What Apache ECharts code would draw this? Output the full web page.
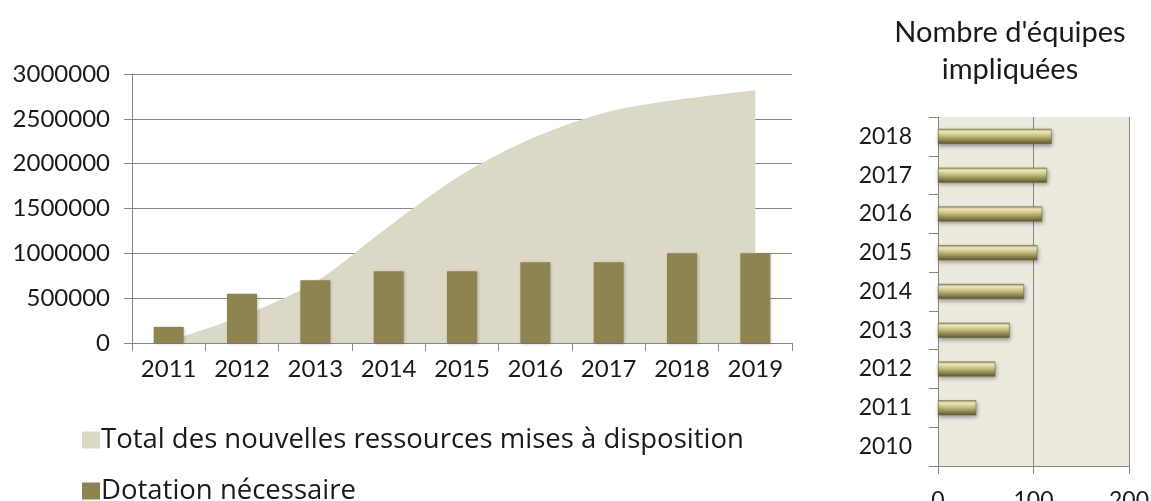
<!DOCTYPE html>
<html>
<head>
<meta charset="utf-8">
<script src="https://cdn.jsdelivr.net/npm/echarts@6/dist/echarts.min.js"></script>
<style>
html,body{margin:0;padding:0;background:#fff;}
#chart{width:1151px;height:501px;}
</style>
</head>
<body>
<div id="chart"></div>
<script>
var years = ['2011','2012','2013','2014','2015','2016','2017','2018','2019'];
var totalRessources = [20000, 300000, 680000, 1300000, 1880000, 2300000, 2580000, 2720000, 2820000];
var dotation = [180000, 550000, 700000, 800000, 800000, 900000, 900000, 1000000, 1000000];
var equipeYears = ['2010','2011','2012','2013','2014','2015','2016','2017','2018'];
var equipes = [null, 40, 60, 75, 90, 104, 109, 114, 119];
var leftTicks = {min: 0, max: 3000000, interval: 500000};
var rightTicks = {min: 0, max: 200, interval: 100};
var serieNames = ['Total des nouvelles ressources mises à disposition', 'Dotation nécessaire'];
var rightTitle = "Nombre d'équipes\nimpliquées";

var FONT = 'Lato';
var plain = function (v) { return String(v); };
var legendText = {fontFamily: 'Open Sans', fontSize: 27.5, color: '#1a1a1a', padding: [0,0,0,-4]};
var chart = echarts.init(document.getElementById('chart'));
chart.setOption({
  animation: false,
  backgroundColor: '#ffffff',
  textStyle: {fontFamily: FONT, color: '#1a1a1a'},
  title: {
    text: rightTitle,
    left: 1005, top: 9,
    textAlign: 'center',
    textStyle: {fontFamily: FONT, fontSize: 29, fontWeight: 'normal', color: '#1a1a1a', lineHeight: 37, align: 'center'}
  },
  legend: [
    {
      left: 77, top: 421,
      itemWidth: 18, itemHeight: 17, icon: 'rect', selectedMode: false,
      textStyle: legendText,
      data: [{name: serieNames[0], itemStyle: {color: '#dcd8c6'}}]
    },
    {
      left: 77, top: 472,
      itemWidth: 18, itemHeight: 17, icon: 'rect', selectedMode: false,
      textStyle: legendText,
      data: [{name: serieNames[1], itemStyle: {color: '#8d8452'}}]
    }
  ],
  grid: [
    {left: 132, top: 74, width: 660, height: 269, outerBoundsMode: 'none', containLabel: false},
    {left: 938, top: 117, width: 191, height: 349, show: true, backgroundColor: '#ece9df', borderWidth: 0, outerBoundsMode: 'none', containLabel: false}
  ],
  xAxis: [
    {
      type: 'category', gridIndex: 0, data: years, boundaryGap: true,
      axisLine: {lineStyle: {color: '#868686', width: 1}},
      axisTick: {show: true, length: 8, lineStyle: {color: '#868686'}},
      axisLabel: {fontFamily: FONT, fontSize: 24, color: '#1a1a1a', margin: 14}
    },
    {
      type: 'value', gridIndex: 1, min: rightTicks.min, max: rightTicks.max, interval: rightTicks.interval,
      axisLine: {show: true, lineStyle: {color: '#868686'}},
      axisTick: {show: true, length: 8, lineStyle: {color: '#868686'}},
      splitLine: {show: true, lineStyle: {color: '#868686', width: 1}},
      axisLabel: {fontFamily: FONT, fontSize: 23, color: '#1a1a1a', margin: 23, formatter: plain}
    }
  ],
  yAxis: [
    {
      type: 'value', gridIndex: 0, min: leftTicks.min, max: leftTicks.max, interval: leftTicks.interval,
      axisLine: {show: true, lineStyle: {color: '#868686'}},
      axisTick: {show: true, length: 8, lineStyle: {color: '#868686'}},
      splitLine: {show: true, lineStyle: {color: '#868686', width: 1}},
      axisLabel: {fontFamily: FONT, fontSize: 24, color: '#1a1a1a', margin: 22, formatter: plain}
    },
    {
      type: 'category', gridIndex: 1, data: equipeYears, boundaryGap: true,
      axisLine: {show: true, lineStyle: {color: '#868686'}},
      axisTick: {show: true, length: 9, lineStyle: {color: '#868686'}},
      splitLine: {show: false},
      axisLabel: {fontFamily: FONT, fontSize: 23, color: '#1a1a1a', margin: 26}
    }
  ],
  series: [
    {
      name: serieNames[0], type: 'line', xAxisIndex: 0, yAxisIndex: 0,
      data: totalRessources, smooth: 0.3, showSymbol: false, symbol: 'none',
      color: '#dcd8c6',
      lineStyle: {width: 0, color: '#dcd8c6'},
      areaStyle: {color: '#dcd8c6', opacity: 1},
      z: 2
    },
    {
      name: serieNames[1], type: 'bar', xAxisIndex: 0, yAxisIndex: 0,
      data: dotation, barWidth: 30,
      itemStyle: {color: '#8d8452', shadowColor: 'rgba(0,0,0,0.25)', shadowBlur: 3, shadowOffsetX: 1, shadowOffsetY: 1},
      z: 3
    },
    {
      name: 'equipes', type: 'bar', xAxisIndex: 1, yAxisIndex: 1,
      data: equipes, barWidth: 15,
      itemStyle: {
        color: new echarts.graphic.LinearGradient(0, 0, 0, 1, [
          {offset: 0, color: '#9c9461'},
          {offset: 0.18, color: '#f4efc4'},
          {offset: 0.42, color: '#cfc689'},
          {offset: 0.75, color: '#8f874e'},
          {offset: 1, color: '#5c5731'}
        ]),
        borderColor: '#6b6538', borderWidth: 0.5,
        shadowColor: 'rgba(0,0,0,0.35)', shadowBlur: 4, shadowOffsetX: 1, shadowOffsetY: 2
      },
      z: 3
    }
  ]
});
</script>
</body>
</html>
